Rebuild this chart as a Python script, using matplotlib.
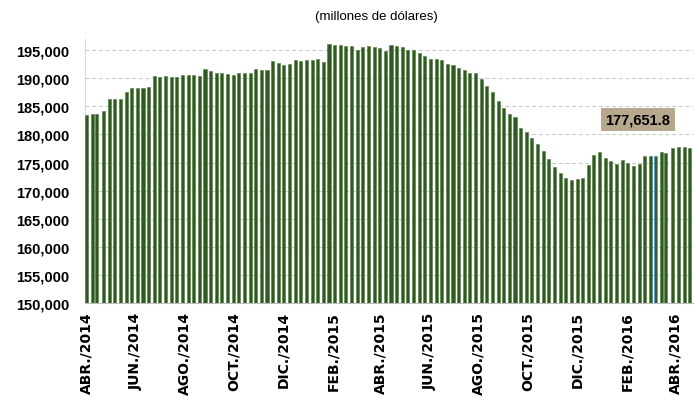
import matplotlib
matplotlib.use('Agg')
import matplotlib.pyplot as plt
import matplotlib.dates as mdates
import numpy as np
import pandas as pd

# ---- data ----
first_week = '2014-04-04'
n_weeks = 108
holiday_shift = {'2014-04-18': '2014-04-16', '2016-03-25': '2016-03-23'}

reserves = [
    183400, 183700, 183570, 184170, 186240, 186240, 186360, 187480, 188310, 188190,
    188310, 188490, 190380, 190260, 190380, 190260, 190260, 190620, 190620, 190620,
    190380, 191625, 191330, 191030, 191030, 190800, 190620, 190860,
    190970, 190860, 191740, 191450, 191450, 193100, 192810, 192400, 192570, 193220,
    193100, 193220, 193220, 193400, 192930, 196070, 196010, 196010, 195830, 195830,
    195060, 195530, 195710, 195530, 195360, 194940,
    196010, 195710, 195530, 195060, 195060, 194470, 194050, 193460, 193460, 193280,
    192570, 192450, 191920, 191510, 190920, 190920, 189850, 188550, 187480, 185940,
    184640, 183570, 183100, 181150, 180380, 179370, 178360,
    177120, 175640, 174160, 173210, 172320, 171850, 172030, 172320, 174570, 176350,
    176820, 175820, 175280, 174750, 175400, 174990, 174400, 174690, 176110, 176170,
    176170, 176940, 176770, 177590, 177770, 177770, 177651.8,
]

tick_dates = ['2014-04-04', '2014-06-04', '2014-08-04', '2014-10-04', '2014-12-04',
              '2015-02-04', '2015-04-04', '2015-06-04', '2015-08-04', '2015-10-04',
              '2015-12-04', '2016-02-04', '2016-04-04']
tick_labels = ['ABR./2014', 'JUN./2014', 'AGO./2014', 'OCT./2014', 'DIC./2014',
               'FEB./2015', 'ABR./2015', 'JUN./2015', 'AGO./2015', 'OCT./2015',
               'DIC./2015', 'FEB./2016', 'ABR./2016']
y_ticks = [150000, 155000, 160000, 165000, 170000, 175000, 180000, 185000, 190000, 195000]
title = '(millones de dólares)'
selected_index = 101

# ---- build dates ----
dates = pd.date_range(first_week, periods=n_weeks, freq='7D')
dates = [pd.Timestamp(holiday_shift.get(d.strftime('%Y-%m-%d'), d.strftime('%Y-%m-%d'))) for d in dates]
x = mdates.date2num(dates)

# ---- figure ----
W, H = 695, 410
fig = plt.figure(figsize=(W / 100, H / 100), dpi=100)
ax = fig.add_axes([85 / W, 1 - 304 / H, 608 / W, 264 / H])

bars = ax.bar(x, reserves, width=3.8, color='#2E5C1F', edgecolor='#4F7A40',
              linewidth=0.4, zorder=3)
bars[selected_index].set_edgecolor('#5BA3DC')
bars[selected_index].set_linewidth(0.8)

ax.set_ylim(150000, 197000)
ax.set_xlim(x[0] - 2, x[-1] + 4)
ax.set_yticks(y_ticks)
ax.set_yticklabels([f'{v:,}' for v in y_ticks], fontsize=10.5, fontweight='bold',
                   family='Liberation Sans')
ax.set_xticks(mdates.date2num([pd.Timestamp(d) for d in tick_dates]))
ax.set_xticklabels(tick_labels, rotation=90, fontsize=10, fontweight='bold',
                   family='DejaVu Sans', ha='center', va='top')
ax.tick_params(axis='y', length=0, pad=11)
ax.tick_params(axis='x', length=0, pad=6)

ax.set_axisbelow(True)
ax.yaxis.grid(True, color='#CACACA', linestyle=(0, (3.5, 2.5)), linewidth=0.8, zorder=0)
for s in ['top', 'right']:
    ax.spines[s].set_visible(False)
ax.spines['left'].set_color('#D9D9D9')
ax.spines['left'].set_linewidth(0.8)
ax.spines['bottom'].set_color('#BFBFBF')
ax.spines['bottom'].set_linewidth(0.8)
ax.spines['bottom'].set_zorder(4)

# data label for last value
ax.annotate(f'{reserves[-1]:,.1f}', xy=(x[-1], reserves[-1]), xytext=(-37.5, 20.3),
            textcoords='offset points', ha='center', va='center', fontsize=10.5,
            fontweight='bold', family='Liberation Sans', color='black',
            bbox=dict(boxstyle='square,pad=0.3', facecolor='#B5A88C', edgecolor='none'),
            zorder=6)

fig.text(376 / W, 1 - 17 / H, title, ha='center', va='center', fontsize=9.5,
         family='Liberation Sans', color='black')

fig.savefig('out.png', dpi=100)
